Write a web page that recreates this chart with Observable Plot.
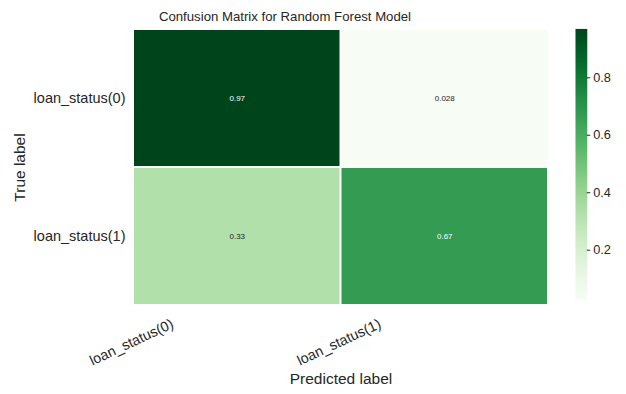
<!DOCTYPE html>
<html>
<head>
<meta charset="utf-8">
<script src="https://cdn.jsdelivr.net/npm/d3@7"></script>
<script src="https://cdn.jsdelivr.net/npm/@observablehq/plot@0.6"></script>
<style>
  html, body { margin: 0; padding: 0; background: #fff; }
  #chart { position: relative; width: 626px; height: 394px; font-family: "Liberation Sans", Arial, sans-serif; color: #262626; }
  #title { position: absolute; left: 0; top: 10px; width: 570px; text-align: center; font-size: 13.2px; line-height: 14px; }
  #main { position: absolute; left: 0; top: 0; line-height: 0; }
  #bar { position: absolute; left: 575px; top: 0; line-height: 0; }
</style>
</head>
<body>
<div id="chart">
  <div id="main"></div>
  <div id="bar"></div>
  <div id="title">Confusion Matrix for Random Forest Model</div>
</div>
<script>
// Class names for rows (true) and columns (predicted)
const trueLabels = ["loan_status(0)", "loan_status(1)"];
const predLabels = ["loan_status(0)", "loan_status(1)"];
// Normalized confusion matrix, one array per true class
const row0 = [0.97, 0.028];
const row1 = [0.33, 0.67];
const colorbarTicks = [0.2, 0.4, 0.6, 0.8];

const matrix = [row0, row1];
const cells = matrix.flatMap((r, i) => r.map((value, j) => ({row: i, col: j, value})));
const vmin = d3.min(cells, d => d.value);
const vmax = d3.max(cells, d => d.value);
const fmt = d3.format(".2g");
const ink = "#262626";
const font = "'Liberation Sans', Arial, sans-serif";

const color = {type: "linear", scheme: "greens", domain: [vmin, vmax]};

const main = Plot.plot({
  width: 626,
  height: 394,
  marginLeft: 133,
  marginRight: 78,
  marginTop: 29,
  marginBottom: 89,
  style: {fontFamily: font, color: ink, background: "transparent", overflow: "visible"},
  x: {domain: [0, 2], axis: null},
  y: {domain: [0, 2], reverse: true, axis: null},
  color,
  marks: [
    Plot.rect(cells, {
      x1: d => d.col, x2: d => d.col + 1,
      y1: d => d.row, y2: d => d.row + 1,
      fill: "value", inset: 1
    }),
    Plot.text(cells, {
      x: d => d.col + 0.5, y: d => d.row + 0.5,
      text: d => fmt(d.value),
      fill: d => (d.value > 0.5 ? "white" : ink),
      fontSize: 8
    }),
    // row tick labels
    Plot.text(trueLabels, {
      y: (d, i) => i + 0.5, text: d => d,
      frameAnchor: "left", textAnchor: "end", dx: -8,
      fontSize: 14.5, fill: ink
    }),
    // column tick labels, set at the cell edges and tilted
    Plot.text(predLabels, {
      x: (d, i) => i, text: d => d,
      frameAnchor: "bottom", dy: 41, rotate: -25, textAnchor: "middle",
      fontSize: 14.3, fill: ink
    }),
    Plot.text(["True label"], {
      text: d => d, frameAnchor: "left", dx: -113, rotate: -90, textAnchor: "middle",
      fontSize: 15.5, fill: ink
    }),
    Plot.text(["Predicted label"], {
      text: d => d, frameAnchor: "bottom", dy: 78,
      fontSize: 15.5, fill: ink
    })
  ]
});
document.getElementById("main").appendChild(main);

// Vertical colour bar (12px wide) with short tick marks and labels on its right
const bar = Plot.plot({
  width: 52,
  height: 394,
  marginLeft: 0,
  marginRight: 40,
  marginTop: 29,
  marginBottom: 89,
  style: {fontFamily: font, color: ink, background: "transparent", overflow: "visible"},
  x: {domain: [0, 1], axis: null},
  y: {domain: [vmin, vmax], axis: null},
  color,
  marks: [
    Plot.raster({x1: 0, x2: 1, y1: vmin, y2: vmax, fill: (x, y) => y, pixelSize: 1}),
    Plot.ruleY(colorbarTicks, {y: d => d, x1: 1, x2: 1.3, stroke: ink, strokeWidth: 1}),
    Plot.text(colorbarTicks, {
      y: d => d, text: d => d.toFixed(1),
      frameAnchor: "right", textAnchor: "start", lineAnchor: "middle", dx: 6,
      fontSize: 13, fill: ink
    })
  ]
});
document.getElementById("bar").appendChild(bar);
</script>
</body>
</html>
